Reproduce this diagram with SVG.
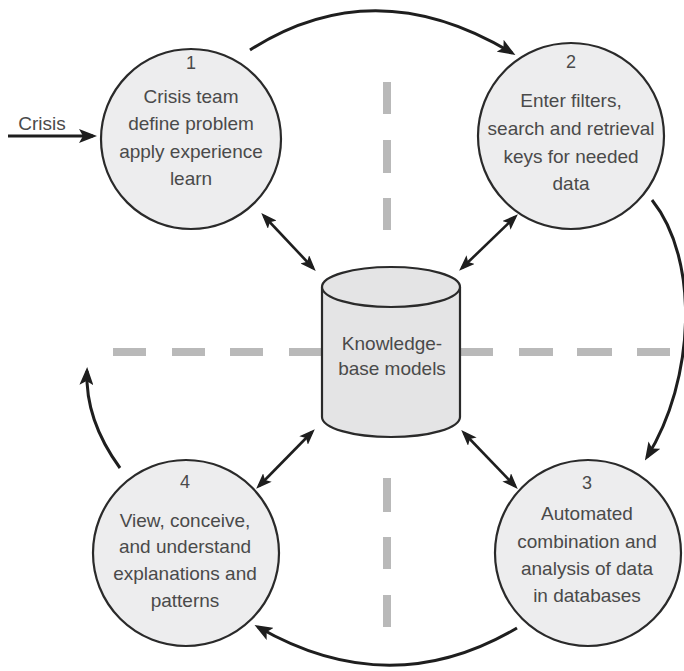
<svg xmlns="http://www.w3.org/2000/svg" width="684" height="671" viewBox="0 0 684 671">
  <style>
    .bubble { fill: #ededee; stroke: #2a2a2a; stroke-width: 2.2; }
    .db { fill: #e4e4e5; stroke: #2a2a2a; stroke-width: 2.2; }
    .lbl { font-family: "Liberation Sans", Arial, sans-serif; font-size: 19px; fill: #4a4a4a; text-anchor: middle; }
    .num { font-family: "Liberation Sans", Arial, sans-serif; font-size: 18px; fill: #4a4a4a; text-anchor: middle; }
    .flow { fill: none; stroke: #1e1e1e; stroke-width: 3; }
    .link { fill: none; stroke: #1e1e1e; stroke-width: 2.6; }
    .grid { fill: none; stroke: #b9b9b9; stroke-width: 8; }
  </style>
  <defs>
    <marker id="head" viewBox="0 0 18 14" markerWidth="18" markerHeight="14" refX="14" refY="7" orient="auto-start-reverse" markerUnits="userSpaceOnUse">
      <path d="M0,0 L18,7 L0,14 L4,7 z" fill="#1e1e1e"/>
    </marker>
    <marker id="headS" viewBox="0 0 16 12" markerWidth="16" markerHeight="12" refX="12" refY="6" orient="auto-start-reverse" markerUnits="userSpaceOnUse">
      <path d="M0,0 L16,6 L0,12 L3.5,6 z" fill="#1e1e1e"/>
    </marker>
  </defs>

  <!-- quadrant guides -->
  <g id="guides">
    <path class="grid" d="M113,352 H146 M172,352 H205 M230,352 H263 M289,352 H322"/>
    <path class="grid" d="M460,352 H493 M519,352 H553 M577,352 H612 M637,352 H670"/>
    <path class="grid" d="M387,82 V114 M387,140 V173 M387,198 V230"/>
    <path class="grid" d="M387,478 V512 M387,537 V569 M387,595 V627"/>
  </g>

  <!-- connectors -->
  <g id="connectors">
    <line class="flow" x1="8" y1="136" x2="93" y2="136" marker-end="url(#head)"/>
    <path class="flow" d="M250,50 Q375,-30 512,53" marker-end="url(#head)"/>
    <path class="flow" d="M652,200 C700,260 695,380 647,457" marker-end="url(#head)"/>
    <path class="flow" d="M517,628 Q390,703 258,627" marker-end="url(#head)"/>
    <path class="flow" d="M120,468 Q85,420 87,371" marker-end="url(#head)"/>
    <line class="link" x1="264" y1="216" x2="313" y2="268" marker-start="url(#headS)" marker-end="url(#headS)"/>
    <line class="link" x1="515" y1="217" x2="462" y2="268" marker-start="url(#headS)" marker-end="url(#headS)"/>
    <line class="link" x1="259" y1="486" x2="312" y2="432" marker-start="url(#headS)" marker-end="url(#headS)"/>
    <line class="link" x1="464" y1="433" x2="515" y2="486" marker-start="url(#headS)" marker-end="url(#headS)"/>
  </g>

  <text class="lbl" x="42" y="130">Crisis</text>

  <g id="node1">
    <circle class="bubble" cx="191" cy="139" r="90"/>
    <text class="num" x="191" y="69">1</text>
    <text class="lbl" x="191" y="103">Crisis team</text>
    <text class="lbl" x="191" y="130">define problem</text>
    <text class="lbl" x="191" y="158">apply experience</text>
    <text class="lbl" x="191" y="185">learn</text>
  </g>

  <g id="node2">
    <circle class="bubble" cx="571" cy="136" r="93"/>
    <text class="num" x="571" y="68">2</text>
    <text class="lbl" x="571" y="107">Enter filters,</text>
    <text class="lbl" x="571" y="135">search and retrieval</text>
    <text class="lbl" x="571" y="163">keys for needed</text>
    <text class="lbl" x="571" y="190">data</text>
  </g>

  <g id="node3">
    <circle class="bubble" cx="588" cy="553" r="93"/>
    <text class="num" x="587" y="489">3</text>
    <text class="lbl" x="587" y="520">Automated</text>
    <text class="lbl" x="587" y="548">combination and</text>
    <text class="lbl" x="587" y="575">analysis of data</text>
    <text class="lbl" x="587" y="602">in databases</text>
  </g>

  <g id="node4">
    <circle class="bubble" cx="186" cy="553" r="93"/>
    <text class="num" x="185" y="488">4</text>
    <text class="lbl" x="185" y="527">View, conceive,</text>
    <text class="lbl" x="185" y="553">and understand</text>
    <text class="lbl" x="185" y="580">explanations and</text>
    <text class="lbl" x="185" y="607">patterns</text>
  </g>

  <g id="knowledge-base">
    <path class="db" d="M322,287 V417 A69,20 0 0 0 460,417 V287"/>
    <ellipse class="db" cx="391" cy="287" rx="69" ry="20"/>
    <text class="lbl" x="392" y="350">Knowledge-</text>
    <text class="lbl" x="392" y="375">base models</text>
  </g>
</svg>
